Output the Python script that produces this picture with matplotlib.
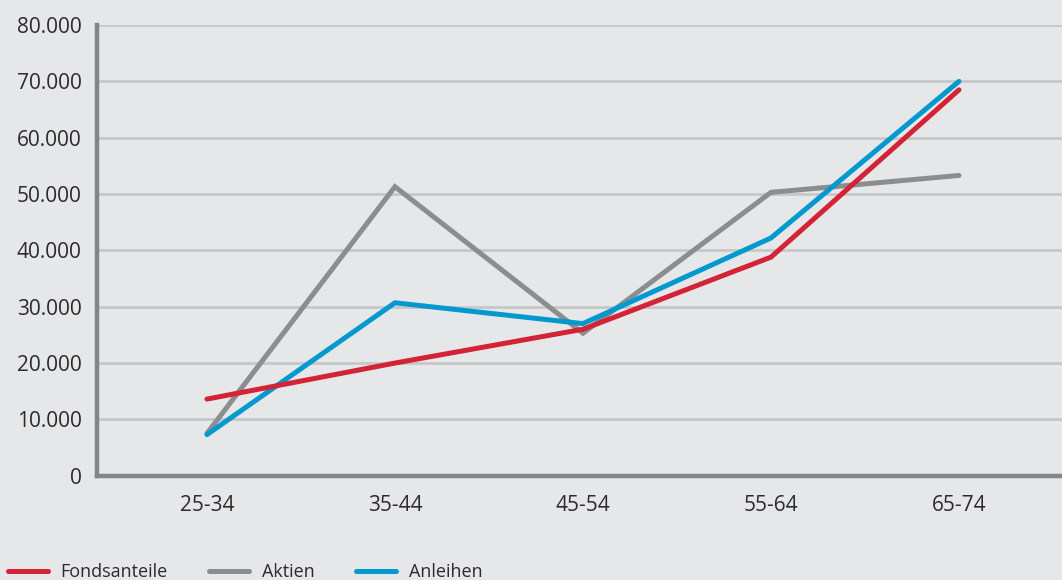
import matplotlib
matplotlib.use("Agg")
import matplotlib.pyplot as plt
import numpy as np

# Daten
kategorien = ["25-34", "35-44", "45-54", "55-64", "65-74"]
fondsanteile = [13600, 20000, 26000, 38800, 68500]
aktien = [7500, 51300, 25300, 50300, 53300]
anleihen = [7300, 30700, 27000, 42200, 70000]
y_ticks = [0, 10000, 20000, 30000, 40000, 50000, 60000, 70000, 80000]

bg = "#e6e7e9"
plt.rcParams["font.family"] = ["Open Sans", "DejaVu Sans"]

fig = plt.figure(figsize=(10.62, 5.80), dpi=100, facecolor=bg)
ax = fig.add_axes([0.0913, 0.1798, 0.9087, 0.777])
ax.set_facecolor(bg)

x = np.arange(len(kategorien))
ax.plot(x, fondsanteile, color="#d42237", lw=3.6, solid_capstyle="round", solid_joinstyle="miter", label="Fondsanteile", zorder=5)
ax.plot(x, aktien, color="#8c8d8f", lw=3.6, solid_capstyle="round", solid_joinstyle="miter", label="Aktien", zorder=3)
ax.plot(x, anleihen, color="#0399cf", lw=3.6, solid_capstyle="round", solid_joinstyle="miter", label="Anleihen", zorder=4)

ax.set_xlim(-0.585, 4.548)
ax.set_ylim(0, 80000)
ax.set_xticks(x)
ax.set_xticklabels(kategorien)
ax.set_yticks(y_ticks)
ax.set_yticklabels([f"{v:,}".replace(",", ".") for v in y_ticks])
ax.tick_params(length=0, labelsize=15, colors="#2b2b2b", pad=11)
ax.tick_params(axis="x", pad=14)

ax.grid(axis="y", color="#c6c7c9", lw=2)
ax.set_axisbelow(True)
for s in ["top", "right"]:
    ax.spines[s].set_visible(False)
ax.spines["left"].set_color("#848587")
ax.spines["left"].set_linewidth(3.2)
ax.spines["bottom"].set_color("#848587")
ax.spines["bottom"].set_linewidth(3.2)

leg = fig.legend(loc="lower left", bbox_to_anchor=(-0.001, -0.018), ncol=3, frameon=False,
                 fontsize=13, handlelength=2.2, handletextpad=0.72, columnspacing=2.3,
                 borderpad=0)
for t in leg.get_texts():
    t.set_color("#2b2b2b")

fig.savefig("out.png", dpi=100, facecolor=bg)
